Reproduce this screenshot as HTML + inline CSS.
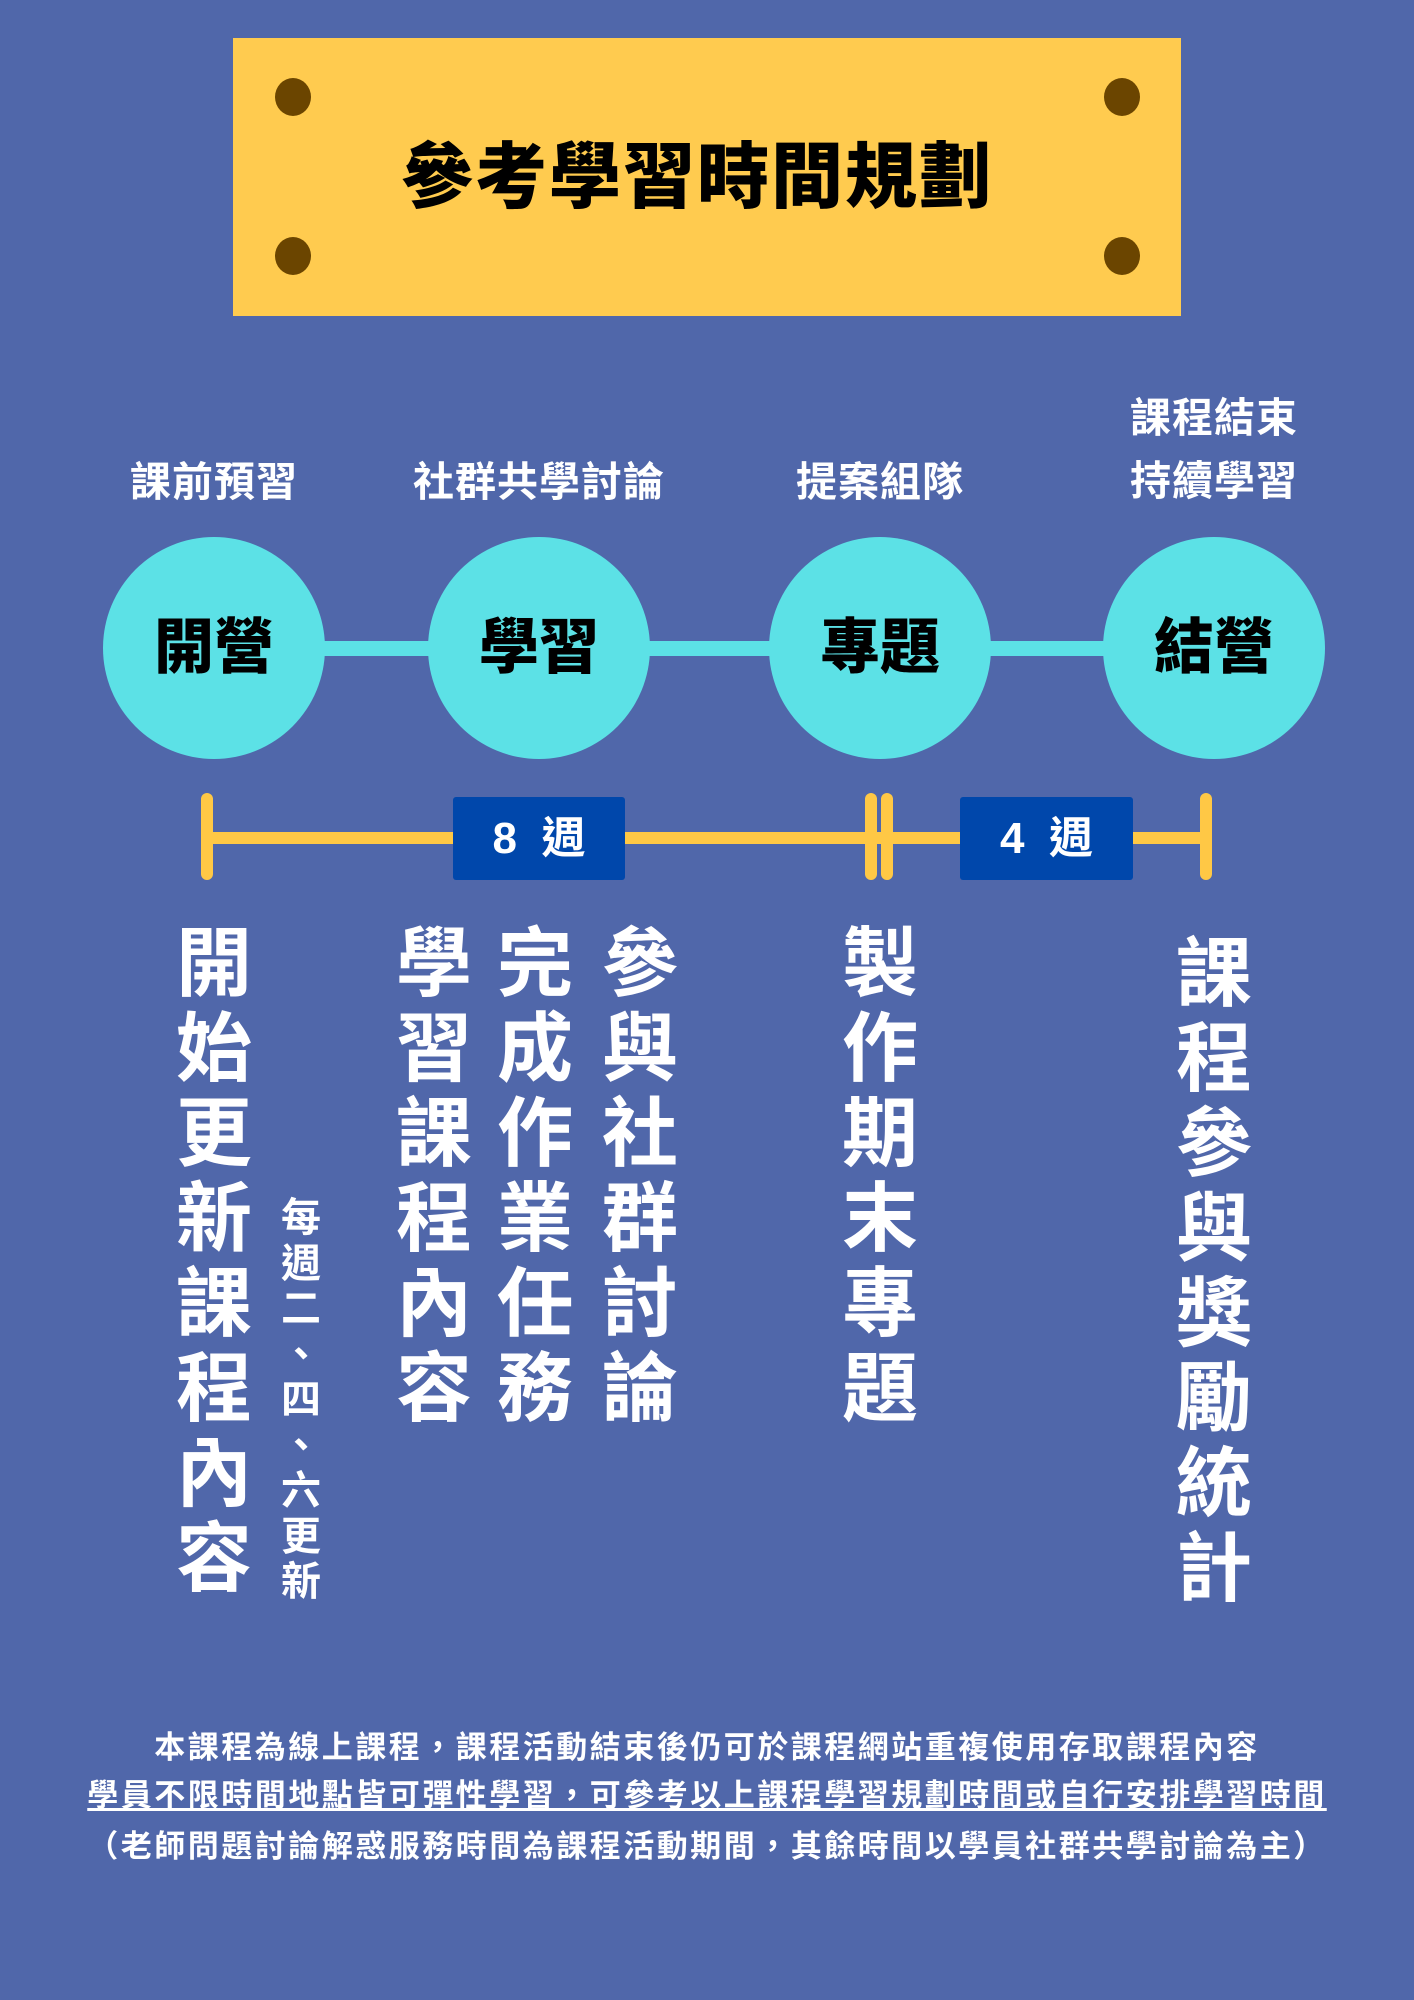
<!DOCTYPE html>
<html><head><meta charset="utf-8"><style>
*{margin:0;padding:0}
body{width:1414px;height:2000px;background:#5067AA;position:relative;overflow:hidden;font-family:"Liberation Sans","Noto Sans CJK TC",sans-serif;font-weight:900}
.a{position:absolute}
.dot{position:absolute;width:36px;height:38px;border-radius:50%;background:#6B4500}
.lbl{position:absolute;color:#fff;font-size:41px;text-align:center;width:300px;line-height:46px;font-weight:700;letter-spacing:1px}
.c{position:absolute;width:222px;height:222px;border-radius:50%;background:#5CE1E6;top:537px;font-size:60px;line-height:222px;text-align:center;color:#000}
.v{position:absolute;color:#fff;text-align:center;font-weight:700}
.bx{position:absolute;background:#0047AB;color:#fff;font-size:44px;text-align:center;line-height:83px;height:83px;top:797px;border-radius:3px;font-weight:700}
.tk{position:absolute;background:#FFC845;width:12px;border-radius:6px}
.bt{position:absolute;left:0;width:1414px;text-align:center;color:#fff;font-size:31px;font-weight:700;letter-spacing:2.5px}
</style></head><body>
<div class="a" style="left:233px;top:38px;width:948px;height:278px;background:#FFCB4F"></div>
<div class="dot" style="left:275px;top:78px"></div>
<div class="dot" style="left:1104px;top:78px"></div>
<div class="dot" style="left:275px;top:237px"></div>
<div class="dot" style="left:1104px;top:237px"></div>
<div class="a" style="left:223px;width:948px;top:136px;text-align:center;font-size:72px;line-height:84px;color:#000;letter-spacing:2px">參考學習時間規劃</div>

<div class="lbl" style="left:64px;top:459px">課前預習</div>
<div class="lbl" style="left:389px;top:459px">社群共學討論</div>
<div class="lbl" style="left:730px;top:459px">提案組隊</div>
<div class="lbl" style="left:1064px;top:387px;line-height:63px">課程結束<br>持續學習</div>

<div class="a" style="left:214px;top:641px;width:1000px;height:15px;background:#5CE1E6"></div>
<div class="c" style="left:103px">開營</div>
<div class="c" style="left:428px">學習</div>
<div class="c" style="left:769px">專題</div>
<div class="c" style="left:1103px">結營</div>

<div class="a" style="left:207px;top:832px;width:999px;height:12px;background:#FFC845"></div>
<div class="tk" style="left:201px;top:793px;height:87px"></div>
<div class="tk" style="left:865px;top:793px;height:87px"></div>
<div class="tk" style="left:881px;top:793px;height:87px"></div>
<div class="tk" style="left:1200px;top:793px;height:87px"></div>
<div class="bx" style="left:453px;width:172px">8&nbsp; 週</div>
<div class="bx" style="left:960px;width:173px">4&nbsp; 週</div>

<div class="v" style="left:172px;top:922px;width:84px;font-size:76px;line-height:85px">開<br>始<br>更<br>新<br>課<br>程<br>內<br>容</div>
<div class="v" style="left:278px;top:1196px;width:46px;font-size:40px;line-height:45.5px">每<br>週<br>二<br>、<br>四<br>、<br>六<br>更<br>新</div>
<div class="v" style="left:392px;top:922px;width:84px;font-size:76px;line-height:85px">學<br>習<br>課<br>程<br>內<br>容</div>
<div class="v" style="left:493px;top:922px;width:84px;font-size:76px;line-height:85px">完<br>成<br>作<br>業<br>任<br>務</div>
<div class="v" style="left:598px;top:922px;width:84px;font-size:76px;line-height:85px">參<br>與<br>社<br>群<br>討<br>論</div>
<div class="v" style="left:838px;top:922px;width:84px;font-size:76px;line-height:85px">製<br>作<br>期<br>末<br>專<br>題</div>
<div class="v" style="left:1172px;top:932px;width:84px;font-size:76px;line-height:85px">課<br>程<br>參<br>與<br>獎<br>勵<br>統<br>計</div>

<div class="bt" style="top:1722px">本課程為線上課程，課程活動結束後仍可於課程網站重複使用存取課程內容</div>
<div class="bt" style="top:1770px"><span style="text-decoration:underline">學員不限時間地點皆可彈性學習，可參考以上課程學習規劃時間或自行安排學習時間</span></div>
<div class="bt" style="top:1821px">（老師問題討論解惑服務時間為課程活動期間，其餘時間以學員社群共學討論為主）</div>
</body></html>
